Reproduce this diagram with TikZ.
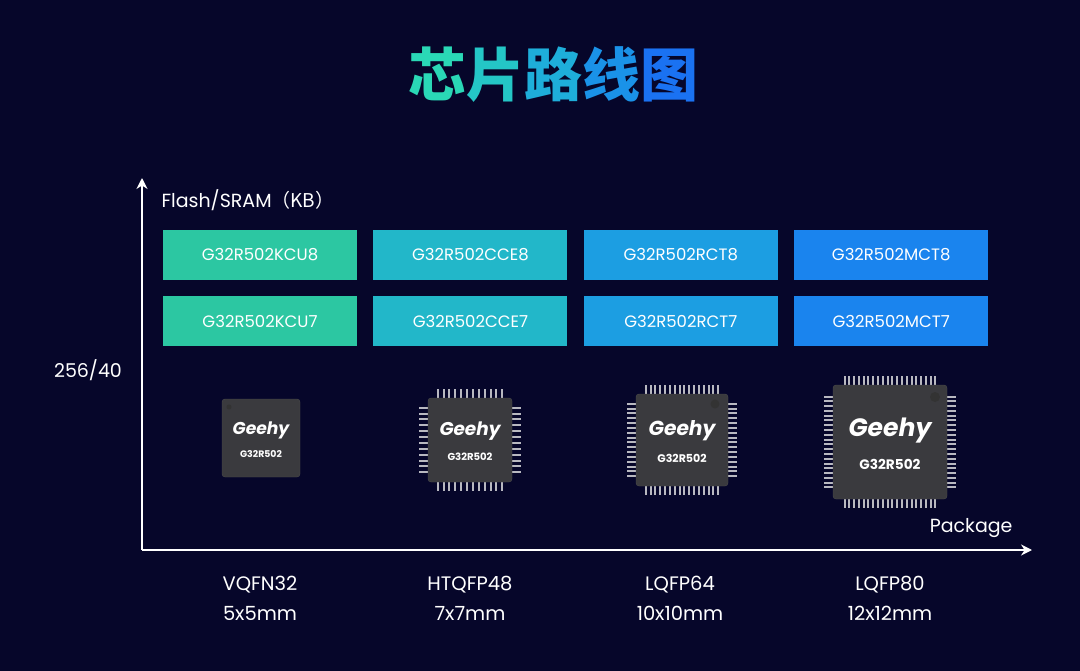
\documentclass[tikz,border=0pt]{standalone}
\usepackage{fontspec}
\setmainfont{Poppins}
\newfontfamily\cjk{Noto Sans CJK SC}
\usetikzlibrary{positioning,arrows.meta}
\definecolor{bgnavy}{HTML}{06062A}
\definecolor{colA}{HTML}{2CC7A2}
\definecolor{colB}{HTML}{22B7C9}
\definecolor{colC}{HTML}{1C9EE2}
\definecolor{colD}{HTML}{1A84EE}
\definecolor{chipgray}{HTML}{3A3A3E}
\definecolor{pingray}{HTML}{B8B8C0}
\tikzset{
  part/.style={minimum width=194pt, minimum height=50pt, inner sep=0pt, text=white, font=\fontsize{16.5}{17}\selectfont},
  axislab/.style={text=white, font=\fontsize{19}{20}\selectfont},
  pkg/.style={text=white, align=center, font=\fontsize{19.5}{30}\selectfont},
  body/.style={fill=chipgray, draw=black!70, rounded corners=3pt, inner sep=0pt}
}
% chip: name, center x, center y, body size, pins per side (0 = none)
\newcommand{\drawchip}[5]{%
  \ifnum#5>0
    \foreach \k in {1,...,#5}{%
      \pgfmathsetmacro{\p}{-0.42*#4+0.84*#4*(\k-0.5)/#5}
      \fill[pingray] (#2+\p-1,#3-0.5*#4-9) rectangle (#2+\p+1,#3-0.5*#4);
      \fill[pingray] (#2+\p-1,#3+0.5*#4) rectangle (#2+\p+1,#3+0.5*#4+9);
      \fill[pingray] (#2-0.5*#4-9,#3+\p-1) rectangle (#2-0.5*#4,#3+\p+1);
      \fill[pingray] (#2+0.5*#4,#3+\p-1) rectangle (#2+0.5*#4+9,#3+\p+1);
    }
  \fi
  \pgfmathsetmacro{\logosize}{0.22*#4}
  \pgfmathsetmacro{\namesize}{0.12*#4}
  \node[body, minimum size=#4 pt] (#1) at (#2,#3) {};
  \node[text=white, font=\fontsize{\logosize}{\logosize}\selectfont\bfseries\itshape] (#1-logo) at (#2,#3-0.1*#4) {Geehy};
  \node[text=white, font=\fontsize{\namesize}{\namesize}\selectfont\bfseries] (#1-name) at (#2,#3+0.2*#4) {G32R502};
}
\begin{document}
\begin{tikzpicture}[x=1pt,y=-1pt]
\fill[bgnavy] (0,0) rectangle (1080,671);
\useasboundingbox (0,0) rectangle (1080,671);

%TITLE
\node[font=\cjk\fontsize{58}{58}\selectfont\bfseries] (title) at (553,75)
  {\textcolor[HTML]{2AD8B6}{芯}\textcolor[HTML]{24C6C6}{片}\textcolor[HTML]{1EAEDA}{路}\textcolor[HTML]{1A92E8}{线}\textcolor[HTML]{1A72F2}{图}};

%AXES
\coordinate (origin) at (142,550);
\coordinate (ytip) at (142,178);
\coordinate (xtip) at (1032,550);
\draw[white, line width=2.5pt, -{Stealth[length=11pt,width=11pt]}] (origin) -- (ytip);
\draw[white, line width=2.5pt, -{Stealth[length=11pt,width=11pt]}] (origin) -- (xtip);
\node[axislab, anchor=west] (ylab) at (158,200) {Flash/SRAM{\cjk（KB）}};
\node[axislab] (mem) at (88,370) {256/40};
\node[axislab, anchor=east] (xlab) at (1016,528) {Package};

%PART NUMBERS
\node[part, fill=colA] (kcu8) at (260,255) {G32R502KCU8};
\node[part, fill=colB, right=16pt of kcu8] (cce8) {G32R502CCE8};
\node[part, fill=colC, right=16pt of cce8] (rct8) {G32R502RCT8};
\node[part, fill=colD, right=16pt of rct8] (mct8) {G32R502MCT8};
\node[part, fill=colA, below=16pt of kcu8] (kcu7) {G32R502KCU7};
\node[part, fill=colB, below=16pt of cce8] (cce7) {G32R502CCE7};
\node[part, fill=colC, below=16pt of rct8] (rct7) {G32R502RCT7};
\node[part, fill=colD, below=16pt of mct8] (mct7) {G32R502MCT7};

%CHIPS
\drawchip{vqfn}{261}{438}{78}{0}
\drawchip{htqfp}{470}{440}{84}{12}
\drawchip{lqfpa}{682}{440}{92}{16}
\drawchip{lqfpb}{890}{442}{114}{20}
\fill[black!80] (229,407) circle (2.5);
\fill[black!80] (715,404) circle (4.5);
\fill[black!80] (935,397) circle (5);

%PACKAGES
\node[pkg] (p1) at (260,598) {VQFN32\\5x5mm};
\node[pkg] (p2) at (470,598) {HTQFP48\\7x7mm};
\node[pkg] (p3) at (680,598) {LQFP64\\10x10mm};
\node[pkg] (p4) at (890,598) {LQFP80\\12x12mm};
\end{tikzpicture}
\end{document}
